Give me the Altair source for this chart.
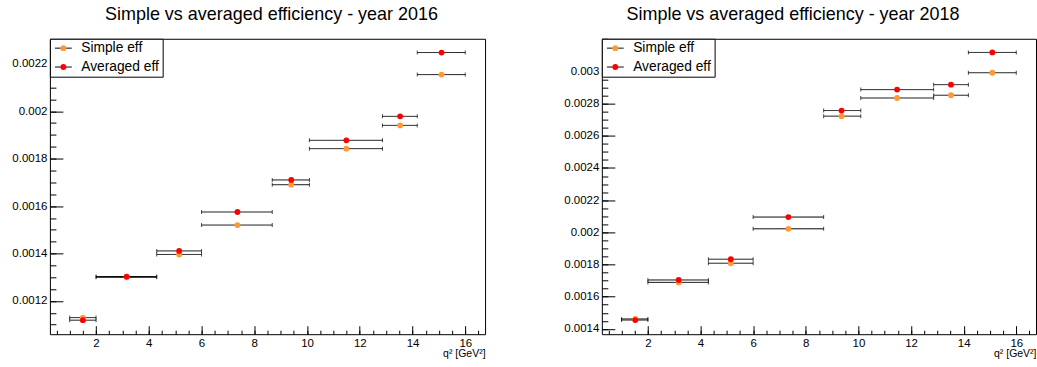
import altair as alt
import pandas as pd

FONT = "Liberation Sans"
ORANGE = "#ff9933"
RED = "#ff0000"

# q^2 bin edges [GeV^2]
q2_lo = [1.0, 2.0, 4.3, 6.0, 8.68, 10.09, 12.86, 14.18]
q2_hi = [2.0, 4.3, 6.0, 8.68, 10.09, 12.86, 14.18, 16.0]

# mean q^2 inside each bin
q2_mean_2016 = [1.50, 3.16, 5.15, 7.36, 9.40, 11.49, 13.53, 15.10]
q2_mean_2018 = [1.52, 3.17, 5.15, 7.34, 9.36, 11.47, 13.52, 15.09]

# efficiencies per bin
simple_eff_2016 = [0.001130, 0.001300, 0.001396, 0.001520, 0.001690, 0.001842, 0.001940, 0.002154]
averaged_eff_2016 = [0.001119, 0.001303, 0.001411, 0.001575, 0.001710, 0.001877, 0.001978, 0.002247]
simple_eff_2018 = [0.001462, 0.001689, 0.001808, 0.002022, 0.002722, 0.002835, 0.002852, 0.002992]
averaged_eff_2018 = [0.001455, 0.001704, 0.001833, 0.002095, 0.002757, 0.002887, 0.002918, 0.003118]

series_names = ["Simple eff", "Averaged eff"]

# axis ranges and tick positions
x_domain = [0.25, 16.75]
x_major = [2, 4, 6, 8, 10, 12, 14, 16]
x_minor = [k * 0.5 for k in range(1, 34)]

y_domain_2016 = [0.00106, 0.002305]
y_major_2016 = [0.0012, 0.0014, 0.0016, 0.0018, 0.002, 0.0022]
y_minor_2016 = [round(k * 0.00005, 7) for k in range(22, 47)]

y_domain_2018 = [0.001367, 0.003203]
y_major_2018 = [0.0014, 0.0016, 0.0018, 0.002, 0.0022, 0.0024, 0.0026, 0.0028, 0.003]
y_minor_2018 = [round(k * 0.00005, 7) for k in range(28, 65)]

PLOT_H = 296


def tick_axis(orient, values, length):
    # inward tick marks drawn as very short dashed grid lines
    return alt.Axis(
        orient=orient, values=values, grid=True, gridDash=[length, 5000],
        gridColor="black", gridOpacity=1, gridWidth=1,
        labels=False, ticks=False, domain=False, title=None,
        minExtent=0, maxExtent=0,
    )


def panel(year, q2_mean, simple, averaged, y_domain, y_major, y_minor, width, title_dx):
    rows = []
    for name, vals in zip(series_names, [simple, averaged]):
        for m, lo, hi, v in zip(q2_mean, q2_lo, q2_hi, vals):
            rows.append({"series": name, "band": name, "q2": m, "lo": lo, "hi": hi, "eff": v})
    df = pd.DataFrame(rows)

    xs = alt.Scale(domain=x_domain, nice=False, zero=False)
    ys = alt.Scale(domain=y_domain, nice=False, zero=False)
    base = alt.Chart(df)

    x_main = alt.Axis(
        orient="bottom", values=x_major, format="d",
        labelFont=FONT, labelFontSize=11.5, labelColor="black", labelPadding=3,
        labelFlush=False, ticks=False, tickSize=0, domain=False, grid=False,
        title="q² [GeV²]", titleFont=FONT, titleFontSize=10.5, titleFontWeight="normal",
        titleColor="black", titleAnchor="end", titleAlign="right",
        titleBaseline="alphabetic", titleY=22,
    )
    y_main = alt.Axis(
        orient="left", values=y_major, format="~g",
        labelFont=FONT, labelFontSize=11.5, labelColor="black", labelPadding=3,
        ticks=False, tickSize=0, domain=False,
        grid=True, gridDash=[13, 5000], gridColor="black", gridOpacity=1, gridWidth=1,
        title=None, minExtent=37, maxExtent=37,
    )

    legend_common = dict(
        orient="none", legendX=0, legendY=0, title=None,
        labelFont=FONT, labelFontSize=13.8, labelLimit=300,
        padding=2.5, rowPadding=3.9, symbolOffset=4.1,
    )

    # error-bar lines; their legend supplies the framed box and the line symbols
    bars = base.mark_rule(color="black", strokeWidth=1).encode(
        x=alt.X("lo:Q", scale=xs, axis=x_main),
        x2="hi:Q",
        y=alt.Y("eff:Q", scale=ys, axis=y_main),
        strokeDash=alt.StrokeDash(
            "band:N",
            scale=alt.Scale(range=[[1, 0], [1, 0]]),
            legend=alt.Legend(
                symbolType="M-1.4,0H1.4", symbolSize=144,
                symbolStrokeColor="black", symbolStrokeWidth=1,
                symbolFillColor="transparent", labelExpr="' '", labelOffset=90,
                fillColor="white", strokeColor="black", zindex=3,
                **legend_common,
            ),
        ),
    )

    caps = base.transform_fold(["lo", "hi"], as_=["side", "edge"]).mark_tick(
        orient="vertical", size=4, thickness=1, color="black"
    ).encode(
        x=alt.X("edge:Q", scale=xs, axis=tick_axis("top", x_major, 8.5)),
        y=alt.Y("eff:Q", scale=ys, axis=tick_axis("left", y_minor, 6)),
    )

    points = base.mark_circle(size=34, opacity=1).encode(
        x=alt.X("q2:Q", scale=xs, axis=tick_axis("top", x_minor, 4)),
        y=alt.Y("eff:Q", scale=ys, axis=None),
        color=alt.Color(
            "series:N",
            scale=alt.Scale(domain=series_names, range=[ORANGE, RED]),
            legend=alt.Legend(
                symbolType="circle", symbolSize=34, symbolStrokeWidth=0,
                symbolOpacity=1, labelColor="black", labelOffset=11, zindex=4,
                **legend_common,
            ),
        ),
    )

    return alt.layer(bars, caps, points).resolve_axis(
        x="independent", y="independent"
    ).properties(
        width=width,
        height=PLOT_H,
        title=alt.TitleParams(
            text=f"Simple vs averaged efficiency - year {year}",
            font=FONT, fontSize=18, fontWeight="normal", color="black",
            anchor="middle", frame="group", baseline="alphabetic",
            offset=0.5, dx=title_dx,
        ),
    )


left = panel(2016, q2_mean_2016, simple_eff_2016, averaged_eff_2016,
             y_domain_2016, y_major_2016, y_minor_2016, 436, 4)
right = panel(2018, q2_mean_2018, simple_eff_2018, averaged_eff_2018,
              y_domain_2018, y_major_2018, y_minor_2018, 435, -26)

chart = alt.hconcat(left, right, spacing=77).resolve_scale(
    color="independent", strokeDash="independent"
).properties(
    padding={"left": 11, "top": 4.5, "right": 0, "bottom": 0},
    background="white",
).configure_view(stroke="black", strokeWidth=1)

chart.save("out.html", embed_options={"renderer": "svg", "actions": False})
